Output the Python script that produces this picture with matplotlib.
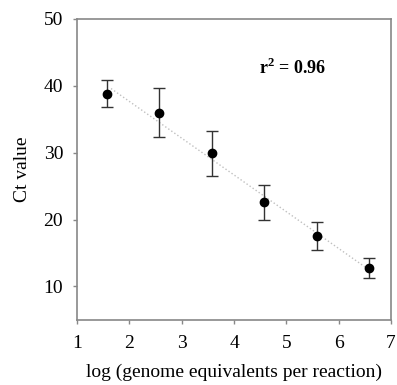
import numpy as np
import matplotlib
matplotlib.use('Agg')
import matplotlib.pyplot as plt

# data
log_ge = [1.57, 2.57, 3.57, 4.57, 5.58, 6.58]
ct = [38.8, 36.0, 29.9, 22.6, 17.5, 12.8]
ct_err = [2.0, 3.6, 3.4, 2.6, 2.1, 1.5]

plt.rcParams['font.family'] = ['Liberation Serif', 'DejaVu Serif']
plt.rcParams['mathtext.fontset'] = 'custom'
plt.rcParams['mathtext.rm'] = 'Liberation Serif'
plt.rcParams['mathtext.bf'] = 'Liberation Serif:bold'

fig = plt.figure(figsize=(3.97, 3.85), dpi=100)
ax = fig.add_axes([0.194, 0.169, 0.791, 0.782])

# regression line
slope, icpt = np.polyfit(log_ge, ct, 1)
xs = np.array([1.65, 6.5])
ax.plot(xs, slope * xs + icpt, ls=':', color='#c0c0c0', lw=1.0)

ax.errorbar(log_ge, ct, yerr=ct_err, fmt='o', color='black', ms=6,
            ecolor='#333333', elinewidth=1.0, capsize=4, capthick=1.0)

ax.text(5.11, 42.7, r'r$^\mathbf{2}$ = 0.96', fontsize=13, fontweight='bold',
        ha='center', va='center')

ax.set_xlim(1, 7)
ax.set_ylim(5, 50)
ax.set_xticks(range(1, 8))
ax.set_yticks([10, 20, 30, 40, 50])
ax.tick_params(labelsize=14, length=3, color='#888888', width=1)
ax.tick_params(axis='x', pad=8)
ax.tick_params(axis='y', pad=7)
ax.set_xlabel('log (genome equivalents per reaction)', fontsize=14, labelpad=8)
ax.set_ylabel('Ct value', fontsize=14, labelpad=9)
for s in ax.spines.values():
    s.set_color('#888888')
    s.set_linewidth(1.2)

fig.savefig('out.png', dpi=100)
